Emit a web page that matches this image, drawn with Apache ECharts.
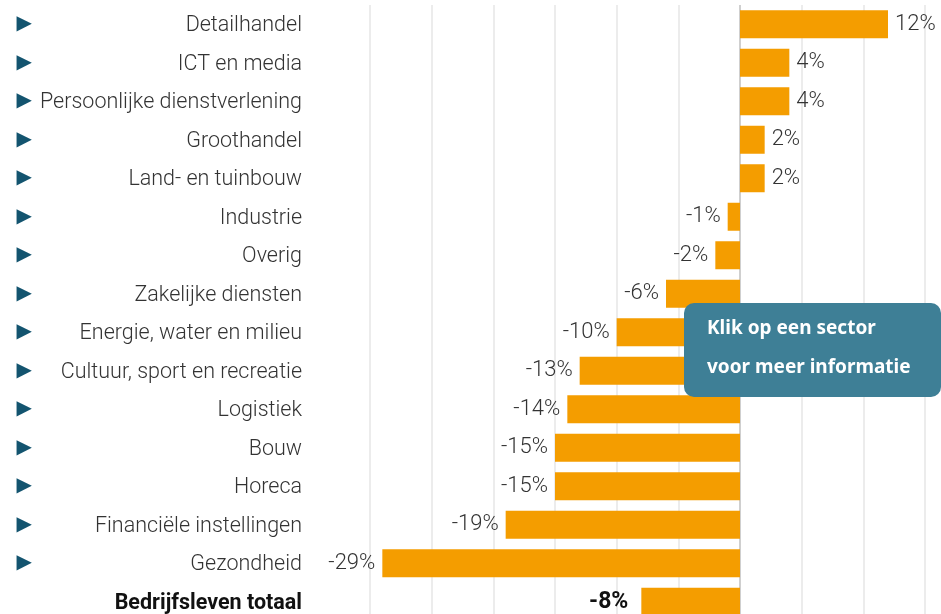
<!DOCTYPE html>
<html>
<head>
<meta charset="utf-8">
<script src="https://cdn.jsdelivr.net/npm/echarts@6/dist/echarts.min.js"></script>
<style>
html,body{margin:0;padding:0;background:#fff;overflow:hidden;}
#chart{width:941px;height:630px;}
</style>
</head>
<body>
<div id="chart"></div>
<script>
const categories = ['Detailhandel','ICT en media','Persoonlijke dienstverlening','Groothandel','Land- en tuinbouw','Industrie','Overig','Zakelijke diensten','Energie, water en milieu','Cultuur, sport en recreatie','Logistiek','Bouw','Horeca','Financiële instellingen','Gezondheid','Bedrijfsleven totaal'];
const values = [12, 4, 4, 2, 2, -1, -2, -6, -10, -13, -14, -15, -15, -19, -29, -8];
const totalLabel = 'Bedrijfsleven totaal';
const xTicks = {min: -30, max: 15, interval: 5};
const noteLines = ['Klik op een sector', 'voor meer informatie'];

const chart = echarts.init(document.getElementById('chart'), null, {renderer: 'canvas'});
const FONT = 'Roboto';
const seriesData = values.map((v, i) => {
  const isTotal = categories[i] === totalLabel;
  return {
    value: v,
    label: {
      show: true,
      position: v < 0 ? 'left' : 'right',
      distance: isTotal ? 13 : 7,
      formatter: v + '%',
      fontFamily: FONT,
      fontSize: isTotal ? 23 : 22,
      fontWeight: isTotal ? 'bold' : 300,
      color: isTotal ? '#111' : '#333',
      padding: [3, 0, 0, 0]
    }
  };
});

chart.setOption({
  animation: false,
  grid: {left: 370, width: 555, top: 5, height: 616, containLabel: false},
  xAxis: {
    type: 'value', min: xTicks.min, max: xTicks.max, interval: xTicks.interval,
    axisLabel: {show: false}, axisLine: {show: false}, axisTick: {show: false},
    splitLine: {show: true, lineStyle: {color: '#e6e6e6', width: 1.5}}
  },
  yAxis: [{
    type: 'category', data: categories, inverse: true,
    axisLine: {show: false, onZero: false}, axisTick: {show: false},
    axisLabel: {
      margin: 68, fontFamily: FONT, fontSize: 21.5, fontWeight: 300, color: '#333',
      padding: [3, 0, 0, 0],
      formatter: v => v === totalLabel ? '{b|' + v + '}' : v,
      rich: {b: {fontFamily: FONT, fontSize: 21.5, fontWeight: 'bold', color: '#111'}}
    }
  }, {
    type: 'category', data: categories, inverse: true, position: 'left', offset: 338,
    axisLine: {show: false, onZero: false}, axisTick: {show: false}, splitLine: {show: false},
    axisLabel: {
      margin: 0, fontFamily: 'DejaVu Sans', fontSize: 20, color: '#13546f',
      padding: [3, 0, 0, 0],
      formatter: v => v === totalLabel ? '' : '\u25B6'
    }
  }],
  series: [{
    type: 'bar', data: seriesData, barWidth: 28, yAxisIndex: 0,
    itemStyle: {color: '#f49d00'},
    markLine: {
      silent: true, symbol: 'none', label: {show: false},
      lineStyle: {color: '#cfcfcf', width: 2, type: 'solid'},
      data: [{xAxis: 0}], z: 1
    }
  }],
  graphic: [{
    type: 'group', left: 684, top: 303, z: 100, zlevel: 1,
    children: [{
      type: 'rect', z: 100, shape: {x: 0, y: 0, width: 257, height: 94, r: 10},
      style: {fill: '#3e7f96'}
    }, {
      type: 'text', z: 101, x: 23, y: 26,
      style: {text: noteLines[0], fill: '#fff', font: 'bold 19px "Noto Sans"', verticalAlign: 'middle'}
    }, {
      type: 'text', z: 101, x: 23, y: 65,
      style: {text: noteLines[1], fill: '#fff', font: 'bold 19px "Noto Sans"', verticalAlign: 'middle'}
    }]
  }]
});
</script>
</body>
</html>
